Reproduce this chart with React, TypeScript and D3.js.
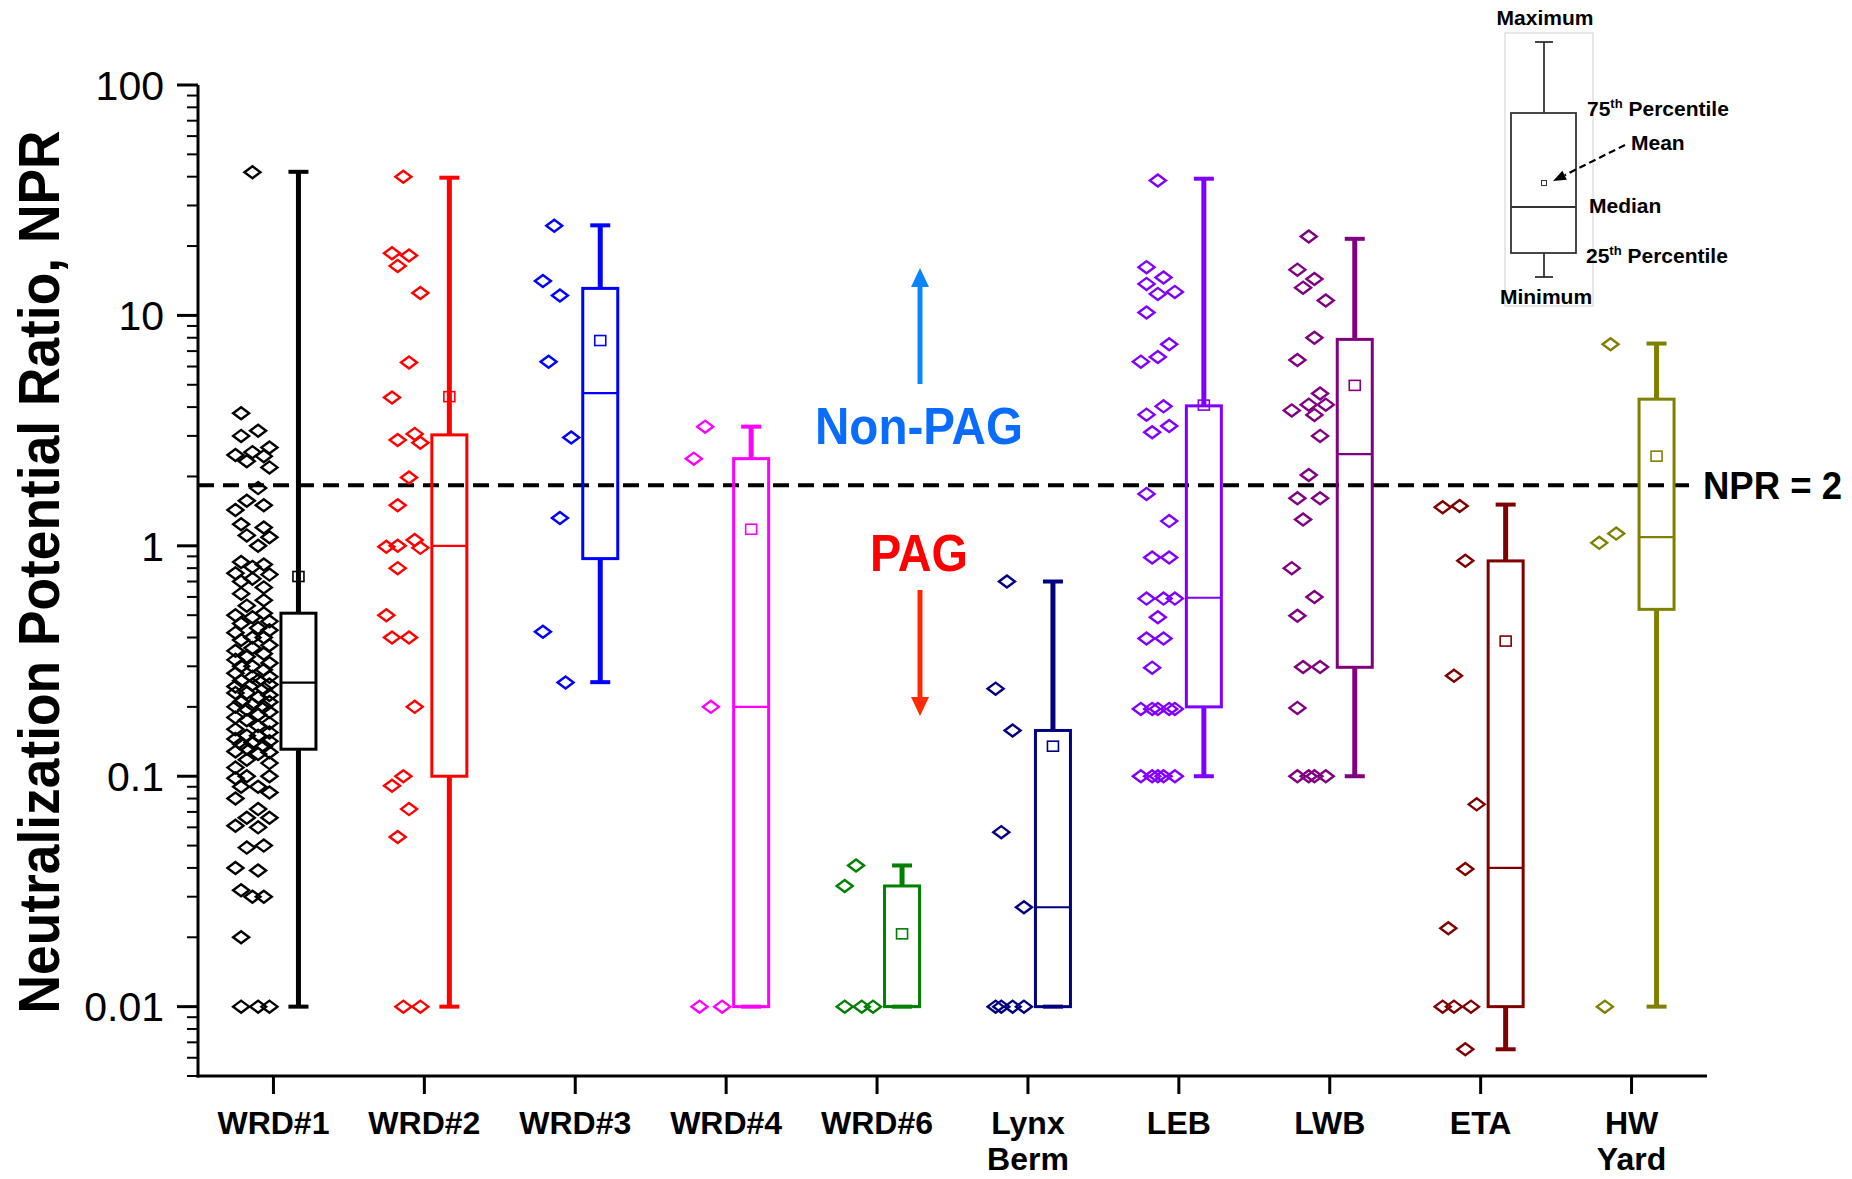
import React from 'react';
import * as d3 from 'd3';

// ---------- data ----------
const categories = ["WRD#1", "WRD#2", "WRD#3", "WRD#4", "WRD#6", "Lynx Berm", "LEB", "LWB", "ETA", "HW Yard"];
const colors = ["#000000", "#ff0000", "#0000ff", "#ff00ff", "#008000", "#000080", "#8000ff", "#800080", "#800000", "#808000"];

const boxMin = [0.01, 0.01, 0.256, 0.01, 0.01, 0.01, 0.1, 0.1, 0.00653, 0.01];
const boxQ1 = [0.131, 0.1, 0.88, 0.01, 0.01, 0.01, 0.2, 0.297, 0.01, 0.53];
const boxMedian = [0.255, 1.0, 4.6, 0.2, 0.01, 0.027, 0.595, 2.5, 0.04, 1.09];
const boxQ3 = [0.51, 3.03, 13.1, 2.39, 0.0334, 0.158, 4.05, 7.87, 0.86, 4.33];
const boxMax = [42, 39.6, 24.6, 3.29, 0.041, 0.70, 39.2, 21.5, 1.51, 7.55];
const boxMean = [0.736, 4.44, 7.78, 1.18, 0.0207, 0.135, 4.08, 4.97, 0.386, 2.45];

const wrd1Points = [
  41.8, 3.76, 3.16, 3.0, 2.67, 2.55, 2.48, 2.45, 2.33, 2.19, 1.78, 1.57, 1.5, 1.43, 1.24, 1.2, 1.11, 1.09, 1.0,
  0.85, 0.83, 0.81, 0.76, 0.75, 0.72, 0.7, 0.66, 0.62, 0.58, 0.55,
  0.51, 0.5, 0.49, 0.47, 0.46, 0.44, 0.43, 0.42, 0.4, 0.4, 0.39, 0.37, 0.36, 0.35, 0.34, 0.33, 0.32, 0.31,
  0.3, 0.3, 0.29, 0.28, 0.27, 0.27, 0.26, 0.26, 0.25, 0.25,
  0.245, 0.24, 0.23, 0.23, 0.225, 0.22, 0.21, 0.21, 0.205, 0.2, 0.2, 0.195, 0.19, 0.185, 0.18, 0.175, 0.17,
  0.165, 0.16, 0.155, 0.15, 0.15, 0.145, 0.142, 0.14, 0.138, 0.135, 0.132,
  0.128, 0.127, 0.125, 0.118, 0.114, 0.109, 0.1, 0.1, 0.098, 0.09, 0.09, 0.085, 0.08, 0.072, 0.066, 0.066,
  0.061, 0.06, 0.05, 0.049, 0.04, 0.039, 0.032, 0.03, 0.03, 0.02, 0.01, 0.01, 0.01,
];
const wrd2Points = [40, 18.6, 18.2, 16.4, 12.5, 6.25, 4.4, 3.06, 2.88, 2.8, 1.98, 1.5, 1.06, 1.0, 0.98, 0.99, 0.8, 0.5, 0.4, 0.4, 0.2, 0.1, 0.091, 0.072, 0.0545, 0.01, 0.01];
const wrd3Points = [24.5, 14.1, 12.2, 6.29, 2.95, 1.32, 0.424, 0.255];
const wrd4Points = [3.29, 2.39, 0.2, 0.01, 0.01];
const wrd6Points = [0.041, 0.0334, 0.01, 0.01, 0.01];
const lynxPoints = [0.70, 0.24, 0.158, 0.0572, 0.027, 0.01, 0.01, 0.01, 0.01];
const lebPoints = [38.5, 16.2, 14.6, 13.7, 12.65, 12.4, 10.3, 7.5, 6.6, 6.3, 4.03, 3.71, 3.31, 3.11, 1.68, 1.28, 0.89, 0.89, 0.59, 0.59, 0.59, 0.49, 0.396, 0.396, 0.296, 0.196, 0.196, 0.196, 0.196, 0.196, 0.1, 0.1, 0.1, 0.1, 0.1];
const lwbPoints = [22, 15.8, 14.4, 13.2, 11.6, 8.0, 6.4, 4.58, 4.1, 3.87, 4.1, 3.7, 3.0, 2.03, 1.61, 1.61, 1.30, 0.80, 0.60, 0.497, 0.298, 0.298, 0.198, 0.1, 0.1, 0.1, 0.1];
const etaPoints = [1.49, 1.47, 0.861, 0.273, 0.0755, 0.0396, 0.0219, 0.01, 0.01, 0.01, 0.00653];
const hwPoints = [7.5, 1.03, 1.13, 0.01];

const groupPoints = [wrd1Points, wrd2Points, wrd3Points, wrd4Points, wrd6Points, lynxPoints, lebPoints, lwbPoints, etaPoints, hwPoints];

const yTickValues = [100, 10, 1, 0.1, 0.01];
const yTickLabels = ["100", "10", "1", "0.1", "0.01"];
const thresholdValue = 1.83;

// ---------- component ----------
export default function App() {
  React.useEffect(() => {
    document.body.style.margin = '0';
  }, []);

  const W = 1852, H = 1179;
  const left = 198, right = 1707, top = 85, bottom = 1076;

  const x = d3.scalePoint<string>().domain(categories).range([left, right]).padding(0.5);
  const y = d3.scaleLog().domain([0.005, 100]).range([bottom, top]);

  const boxOffset = 25, boxHalf = 17.5, capHalf = 10;
  const ptOffset = -21, ptHalf = 17;
  const dW = 8, dH = 6;

  const minorTicks = y.ticks();
  const isMajor = (v: number) => Math.abs(Math.log10(v) - Math.round(Math.log10(v))) < 1e-6;

  // deterministic dodge layout for points
  const layout = (vals: number[], cx: number) => {
    const placed: { x: number; y: number }[] = [];
    const slots = [-1, -2 / 3, -1 / 3, 0, 1 / 3, 2 / 3, 1].map((s) => s * ptHalf);
    vals.forEach((v, i) => {
      const py = y(v);
      const pref = (((i * 0.618034 + 0.5) % 1) * 2 - 1) * ptHalf;
      const cands = slots.slice().sort((a, b) => Math.abs(a - pref) - Math.abs(b - pref));
      let best = cands[0], bestD = -1;
      for (const c of cands) {
        let dmin = Infinity;
        for (const p of placed) {
          const d = Math.hypot((cx + c - p.x) / (2 * dW), (py - p.y) / (2 * dH));
          if (d < dmin) dmin = d;
        }
        if (dmin >= 1) { best = c; bestD = dmin; break; }
        if (dmin > bestD) { bestD = dmin; best = c; }
      }
      placed.push({ x: cx + best, y: py });
    });
    return placed;
  };

  const diamond = (px: number, py: number) => `M${px - dW},${py} L${px},${py - dH} L${px + dW},${py} L${px},${py + dH} Z`;

  const font = "'Liberation Sans', Arial, Helvetica, sans-serif";

  // inset arrow head
  const tip = [1553, 181], tail = [1625, 145];
  const ux = tip[0] - tail[0], uy = tip[1] - tail[1];
  const ul = Math.hypot(ux, uy);
  const nx = ux / ul, ny = uy / ul;
  const hb = [tip[0] - 13 * nx, tip[1] - 13 * ny];
  const head = `${tip[0]},${tip[1]} ${hb[0] - 5 * ny},${hb[1] + 5 * nx} ${hb[0] + 5 * ny},${hb[1] - 5 * nx}`;

  return (
    <svg width={W} height={H} viewBox={`0 0 ${W} ${H}`} style={{ display: 'block', position: 'absolute', left: 0, top: 0, background: '#fff' }} fontFamily={font}>
      <rect x={0} y={0} width={W} height={H} fill="#fff" />

      {/* threshold dashed line */}
      <line x1={left} x2={1690} y1={y(thresholdValue)} y2={y(thresholdValue)} stroke="#000" strokeWidth={4} strokeDasharray="16 9" />

      {/* points */}
      {groupPoints.map((vals, gi) => {
        const cx = (x(categories[gi]) as number) + ptOffset;
        const pts = layout(vals, cx);
        return (
          <g key={'p' + gi}>
            {pts.map((p, i) => (
              <path key={i} d={diamond(p.x, p.y)} fill="none" stroke={colors[gi]} strokeWidth={2.4} />
            ))}
          </g>
        );
      })}

      {/* boxes */}
      {categories.map((c, i) => {
        const bx = (x(c) as number) + boxOffset;
        const col = colors[i];
        return (
          <g key={'b' + i}>
            <line x1={bx} x2={bx} y1={y(boxQ3[i])} y2={y(boxMax[i])} stroke={col} strokeWidth={5} />
            <line x1={bx} x2={bx} y1={y(boxQ1[i])} y2={y(boxMin[i])} stroke={col} strokeWidth={5} />
            <line x1={bx - capHalf} x2={bx + capHalf} y1={y(boxMax[i])} y2={y(boxMax[i])} stroke={col} strokeWidth={4} />
            <line x1={bx - capHalf} x2={bx + capHalf} y1={y(boxMin[i])} y2={y(boxMin[i])} stroke={col} strokeWidth={4} />
            <rect x={bx - boxHalf} y={y(boxQ3[i])} width={2 * boxHalf} height={Math.max(0.1, y(boxQ1[i]) - y(boxQ3[i]))} fill="none" stroke={col} strokeWidth={3} />
            <line x1={bx - boxHalf} x2={bx + boxHalf} y1={y(boxMedian[i])} y2={y(boxMedian[i])} stroke={col} strokeWidth={2.2} />
            <rect x={bx - 5.5} y={y(boxMean[i]) - 5} width={11} height={10} fill="none" stroke={col} strokeWidth={1.6} />
          </g>
        );
      })}

      {/* axes */}
      <line x1={left} x2={left} y1={top} y2={bottom + 1.5} stroke="#000" strokeWidth={3} />
      <line x1={left - 1.5} x2={right} y1={bottom} y2={bottom} stroke="#000" strokeWidth={3} />
      {minorTicks.map((v, i) => (
        <line key={'yt' + i} x1={left} x2={left - (isMajor(v) ? 21 : 11)} y1={y(v)} y2={y(v)} stroke="#000" strokeWidth={isMajor(v) ? 3 : 2} />
      ))}
      {yTickValues.map((v, i) => (
        <text key={'yl' + i} x={164} y={y(v)} dy="0.36em" textAnchor="end" fontSize={41} fill="#000">{yTickLabels[i]}</text>
      ))}
      {categories.map((c, i) => (
        <g key={'xt' + i}>
          <line x1={x(c) as number} x2={x(c) as number} y1={bottom} y2={bottom + 18} stroke="#000" strokeWidth={3} />
          {c.split(' ').map((ln, j) => (
            <text key={j} x={x(c) as number} y={1134 + j * 36} textAnchor="middle" fontSize={32} fontWeight="bold" fill="#000">{ln}</text>
          ))}
        </g>
      ))}

      {/* y axis title */}
      <text transform="translate(59,572) rotate(-90)" textAnchor="middle" fontSize={58} fontWeight="bold" textLength={883} lengthAdjust="spacingAndGlyphs" fill="#000">
        Neutralization Potential Ratio, NPR
      </text>

      {/* annotations */}
      <line x1={920} x2={920} y1={384} y2={284} stroke="#0a84ff" strokeWidth={5} />
      <polygon points="920,268 911,287 929,287" fill="#0a84ff" />
      <text x={919} y={444} textAnchor="middle" fontSize={52} fontWeight="bold" fill="#0a6cff" textLength={208} lengthAdjust="spacingAndGlyphs">Non-PAG</text>
      <text x={919} y={571} textAnchor="middle" fontSize={52} fontWeight="bold" fill="#ff0000" textLength={98} lengthAdjust="spacingAndGlyphs">PAG</text>
      <line x1={920} x2={920} y1={590} y2={700} stroke="#ff2a00" strokeWidth={5} />
      <polygon points="920,716 911,697 929,697" fill="#ff2a00" />
      <text x={1703} y={499} fontSize={38} fontWeight="bold" fill="#000" textLength={139} lengthAdjust="spacingAndGlyphs">NPR = 2</text>

      {/* inset legend */}
      <g>
        <rect x={1505} y={33} width={88} height={273} fill="none" stroke="#cfcfcf" strokeWidth={1} />
        <line x1={1544} x2={1544} y1={42} y2={113} stroke="#333" strokeWidth={1.8} />
        <line x1={1544} x2={1544} y1={253} y2={277} stroke="#333" strokeWidth={1.8} />
        <line x1={1535} x2={1553} y1={42} y2={42} stroke="#333" strokeWidth={1.8} />
        <line x1={1535} x2={1553} y1={277} y2={277} stroke="#333" strokeWidth={1.8} />
        <rect x={1511} y={113} width={65} height={140} fill="none" stroke="#333" strokeWidth={1.8} />
        <line x1={1511} x2={1576} y1={207} y2={207} stroke="#333" strokeWidth={1.8} />
        <rect x={1541.5} y={180.5} width={5} height={5} fill="none" stroke="#333" strokeWidth={1} />
        <line x1={tail[0]} y1={tail[1]} x2={hb[0]} y2={hb[1]} stroke="#000" strokeWidth={2.2} strokeDasharray="7 4" />
        <polygon points={head} fill="#000" />
        <g fontSize={21} fontWeight="bold" fill="#000">
          <text x={1545} y={25} textAnchor="middle">Maximum</text>
          <text x={1546} y={304} textAnchor="middle">Minimum</text>
          <text x={1587} y={116}>75<tspan fontSize={13} dy={-8}>th</tspan><tspan dy={8}> Percentile</tspan></text>
          <text x={1631} y={150}>Mean</text>
          <text x={1589} y={213}>Median</text>
          <text x={1586} y={263}>25<tspan fontSize={13} dy={-8}>th</tspan><tspan dy={8}> Percentile</tspan></text>
        </g>
      </g>
    </svg>
  );
}
